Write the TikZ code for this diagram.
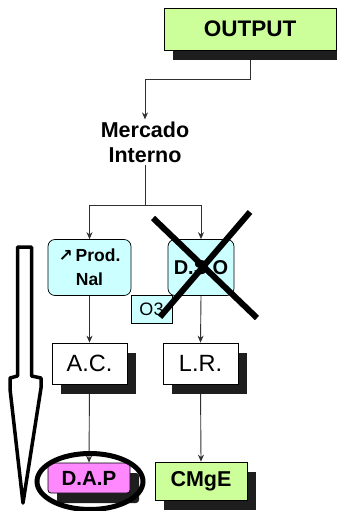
\documentclass[tikz,border=0pt]{standalone}
\usepackage{fontspec}
\setmainfont{Liberation Sans}
\newfontfamily\symfont{DejaVu Sans}
\usetikzlibrary{shadows,backgrounds,arrows.meta}
\definecolor{boxcyan}{HTML}{CCFFFF}
\definecolor{boxgreen}{HTML}{CCFF99}
\definecolor{boxpink}{HTML}{FF88FF}
\definecolor{shade}{HTML}{1E1E1E}
\definecolor{wire}{HTML}{303030}

\begin{document}
\begin{tikzpicture}[x=1pt,y=-1pt,
  shade box/.style={general shadow={fill=shade,shadow xshift=9pt,shadow yshift=-10pt}},
  panel/.style={draw=black,line width=0.7pt,inner sep=0pt,align=center},
  soft/.style={panel,rounded corners=7pt,fill=boxcyan},
  wired/.style={draw=wire,line width=0.9pt},
  arr/.style={wired,-{Stealth[length=7pt,width=6pt]}},
  strike/.style={line width=6pt,black}]
\useasboundingbox (0,0) rectangle (337,511);

% Output box at the top
\node[panel,fill=boxgreen,shade box,minimum width=172pt,minimum height=42pt,
  font=\fontsize{22.5}{24}\selectfont\bfseries] (output) at (250,29) {OUTPUT};

% Mercado Interno
\node[align=center,inner sep=2pt,font=\fontsize{21.5}{25}\selectfont\bfseries] (mercado) at (145,142) {Mercado\\Interno};

% Middle row
\node[soft,minimum width=83pt,minimum height=56pt,
  font=\fontsize{17.5}{24}\selectfont\bfseries] (prod) at (89.5,267.5) {{\symfont\fontsize{17}{17}\selectfont ↗}\,Prod.\\Nal};
\node[soft,minimum width=66pt,minimum height=56pt,
  font=\fontsize{20}{22}\selectfont\bfseries] (dso) at (201,267.5) {D.S.O};
\node[panel,fill=boxcyan,minimum width=41pt,minimum height=28pt,
  font=\fontsize{18}{20}\selectfont] (otres) at (151.5,309) {O3};

% Cross over D.S.O
\draw[strike] (153,218) -- (257,318);
\draw[strike] (250,212) -- (160,317);

% A.C. and L.R.
\node[panel,fill=white,shade box,minimum width=75pt,minimum height=41pt,
  font=\fontsize{23.5}{26}\selectfont] (ac) at (89.5,363.5) {A.C.};
\node[panel,fill=white,shade box,minimum width=75pt,minimum height=41pt,
  font=\fontsize{23.5}{26}\selectfont] (lr) at (200.5,363.5) {L.R.};

% Bottom row
\node[panel,fill=boxpink,shade box,rounded corners=3pt,minimum width=82pt,minimum height=30pt,
  font=\fontsize{20.5}{22}\selectfont\bfseries] (dap) at (89,478) {D.A.P};
\node[panel,fill=boxgreen,shade box,minimum width=92pt,minimum height=38pt,
  font=\fontsize{21.5}{24}\selectfont\bfseries] (cmge) at (201,481) {CMgE};

% Ring round D.A.P
\draw[line width=5pt] (90,481.5) ellipse (53 and 28);

% Big hollow arrow on the left
\draw[line width=3.5pt,fill=white,line join=round]
  (17.5,247) -- (31.5,247) -- (31.5,376) -- (41,378) -- (41,388) -- (23,503)
  -- (10,389) -- (10,378) -- (17.5,376) -- cycle;

% Connectors
\begin{scope}[on background layer]
\coordinate (bend) at (250,79);
\coordinate (split) at (145,205);
\draw[arr] (output.south) -- (bend) -| (mercado.north);
\draw[wired] (mercado.south) -- (split);
\draw[arr] (split) -| (prod.north);
\draw[arr] (split) -| (dso.north);
\draw[arr] (prod.south) -- (ac.north);
\draw[arr] (dso.south) -- (lr.north);
\draw[arr] (ac.south) -- (dap.north);
\draw[arr] (lr.south) -- (cmge.north);
\end{scope}

\end{tikzpicture}
\end{document}
